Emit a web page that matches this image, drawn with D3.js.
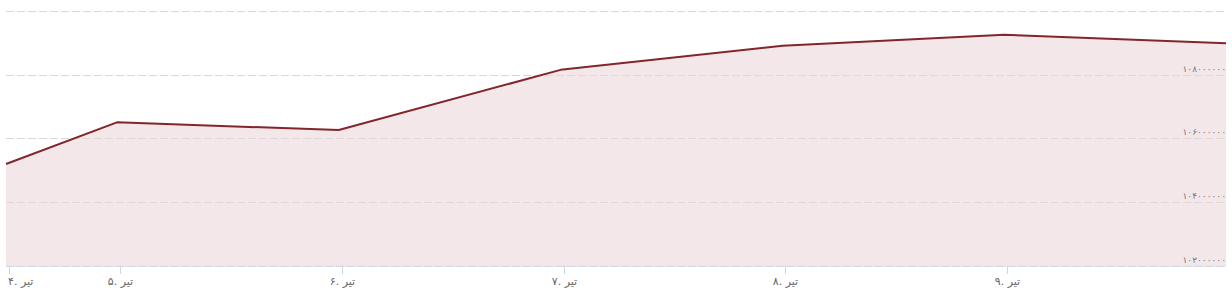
<!DOCTYPE html>
<html>
<head>
<meta charset="utf-8">
<script src="https://cdn.jsdelivr.net/npm/d3@7"></script>
<style>
  body { margin: 0; background: #fff; }
  svg { display: block; font-family: "DejaVu Sans", sans-serif; }
</style>
</head>
<body>
<div id="chart"></div>
<script>
// days of the month (Tir), first point is mid-day on 4 Tir
const days = [4.5, 5, 6, 7, 8, 9, 10];
const values = [105190000, 106500000, 106260000, 108150000, 108910000, 109250000, 108990000];

const xTickDays = [4.5, 5, 6, 7, 8, 9];
const xTickLabels = ["۴. تیر", "۵. تیر", "۶. تیر", "۷. تیر", "۸. تیر", "۹. تیر"];

const yGridValues = [102000000, 104000000, 106000000, 108000000, 110000000];
const yLabelValues = [102000000, 104000000, 106000000, 108000000];
const yLabels = ["۱۰۲۰۰۰۰۰۰", "۱۰۴۰۰۰۰۰۰", "۱۰۶۰۰۰۰۰۰", "۱۰۸۰۰۰۰۰۰"];

const data = days.map((d, i) => ({day: d, value: values[i]}));

const W = 1232, H = 298;
const plotLeft = 6, plotRight = 1226, plotTop = 11, plotBottom = 265.5;

const svg = d3.select("#chart").append("svg")
    .attr("width", W)
    .attr("height", H);

const x = d3.scaleLinear().domain([4.5, 10]).range([plotLeft, plotRight]);
const y = d3.scaleLinear().domain([102000000, 110000000]).range([plotBottom, plotTop]);

// grid
svg.append("g")
    .selectAll("line")
    .data(yGridValues)
    .enter().append("line")
    .attr("x1", plotLeft)
    .attr("x2", plotRight)
    .attr("y1", d => Math.round(y(d)) + 0.5)
    .attr("y2", d => Math.round(y(d)) + 0.5)
    .attr("stroke", "#dedede")
    .attr("stroke-dasharray", "8,3");

// area + line
svg.append("path")
    .datum(data)
    .attr("fill", "#f3e7e9")
    .attr("d", d3.area()
        .x(d => x(d.day))
        .y0(plotBottom)
        .y1(d => y(d.value)));

// grid again over area
svg.append("g")
    .selectAll("line")
    .data(yGridValues.slice(1))
    .enter().append("line")
    .attr("x1", plotLeft)
    .attr("x2", plotRight)
    .attr("y1", d => Math.round(y(d)) + 0.5)
    .attr("y2", d => Math.round(y(d)) + 0.5)
    .attr("stroke", "#d8d4d5")
    .attr("stroke-opacity", 0.8)
    .attr("stroke-dasharray", "8,3");

svg.append("path")
    .datum(data)
    .attr("fill", "none")
    .attr("stroke", "#82262c")
    .attr("stroke-width", 2)
    .attr("stroke-linejoin", "round")
    .attr("d", d3.line()
        .x(d => x(d.day))
        .y(d => y(d.value)));

// x axis
svg.append("line")
    .attr("x1", plotLeft)
    .attr("x2", plotRight)
    .attr("y1", Math.round(plotBottom))
    .attr("y2", Math.round(plotBottom))
    .attr("stroke", "#ccd6eb");

const xt = svg.append("g")
    .selectAll("g")
    .data(xTickDays)
    .enter().append("g")
    .attr("transform", d => `translate(${Math.round(x(d)) + 3.5},0)`);

xt.append("line")
    .attr("y1", Math.round(plotBottom))
    .attr("y2", Math.round(plotBottom) + 8)
    .attr("stroke", "#ccd6eb");

xt.append("text")
    .attr("y", 285)
    .attr("text-anchor", "middle")
    .attr("fill", "#666")
    .style("font-size", "11px")
    .text((d, i) => xTickLabels[i])
    .each(function(d) {
        const w = this.getComputedTextLength();
        const cx = Math.round(x(d)) + 3.5;
        if (cx - w / 2 < 6) d3.select(this).attr("x", 8 - cx + w / 2);
    });

// y labels on the right, inside the plot
svg.append("g")
    .selectAll("text")
    .data(yLabelValues)
    .enter().append("text")
    .attr("x", plotRight)
    .attr("y", d => y(d) - 3)
    .attr("text-anchor", "end")
    .attr("fill", "#777")
    .style("font-size", "9px")
    .text((d, i) => yLabels[i]);
</script>
</body>
</html>
